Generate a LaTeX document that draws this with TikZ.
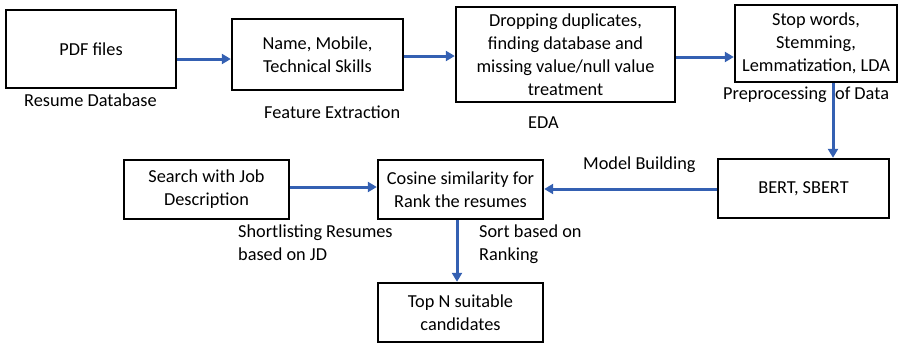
\documentclass[tikz,border=0pt]{standalone}
\usepackage{fontspec}
\setmainfont{Carlito}
\usetikzlibrary{arrows.meta}
\definecolor{flowblue}{RGB}{52,96,178}
\tikzset{
  x=1pt, y=-1pt,
  stagebox/.style={draw=black, line width=2.4pt, align=center, inner sep=0pt},
  flow/.style={draw=flowblue, line width=3pt, -{Triangle[length=9pt,width=10pt]}},
  caption/.style={align=left, anchor=north west, inner sep=0pt},
}
\newcommand{\boxat}[6]{% name, x1, y1, x2, y2, text
  \node[stagebox, minimum width={#4-#2}, minimum height={#5-#3}] (#1) at ({(#2+#4)/2},{(#3+#5)/2}) {#6};}
\begin{document}
\begin{tikzpicture}[font=\fontsize{18.3}{23}\selectfont]
\useasboundingbox (0,0) rectangle (900,343);

% stage boxes
\boxat{pdf}{6}{10}{176}{88}{PDF files}
\boxat{feat}{232}{19}{403}{90}{Name, Mobile,\\Technical Skills}
\boxat{eda}{456}{7}{675}{102}{Dropping duplicates,\\finding database and\\missing value/null value\\treatment}
\boxat{prep}{735}{5}{897}{82}{Stop words,\\Stemming,\\Lemmatization, LDA}
\boxat{bert}{718}{159}{889}{218}{BERT, SBERT}
\boxat{cos}{378}{160}{543}{219}{Cosine similarity for\\Rank the resumes}
\boxat{search}{124}{160}{289}{219}{Search with Job\\Description}
\boxat{top}{378}{283}{543}{342}{Top N suitable\\candidates}

% captions
\node[caption] (cpdf) at (24,94) {Resume Database};
\node[caption] (cfeat) at (264,106) {Feature Extraction};
\node[caption] (ceda) at (528,117) {EDA};
\node[caption] (cprep) at (723,87) {Preprocessing\ \ of Data};
\node[caption] (cmodel) at (583,157) {Model Building};
\node[caption] (cshort) at (238,225) {Shortlisting Resumes\\based on JD};
\node[caption] (csort) at (479,225) {Sort based on\\Ranking};

% connectors
\draw[flow] (pdf.east |- 0,59) -- (feat.west |- 0,59);
\draw[flow] (feat.east |- 0,56) -- (eda.west |- 0,56);
\draw[flow] (eda.east |- 0,57) -- (prep.west |- 0,57);
\draw[flow] (prep.south -| 833,0) -- (bert.north -| 833,0);
\draw[flow] (bert.west |- 0,189) -- (cos.east |- 0,189);
\draw[flow] (search.east |- 0,187) -- (cos.west |- 0,187);
\draw[flow] (cos.south -| 457,0) -- (top.north -| 457,0);
\end{tikzpicture}
\end{document}
